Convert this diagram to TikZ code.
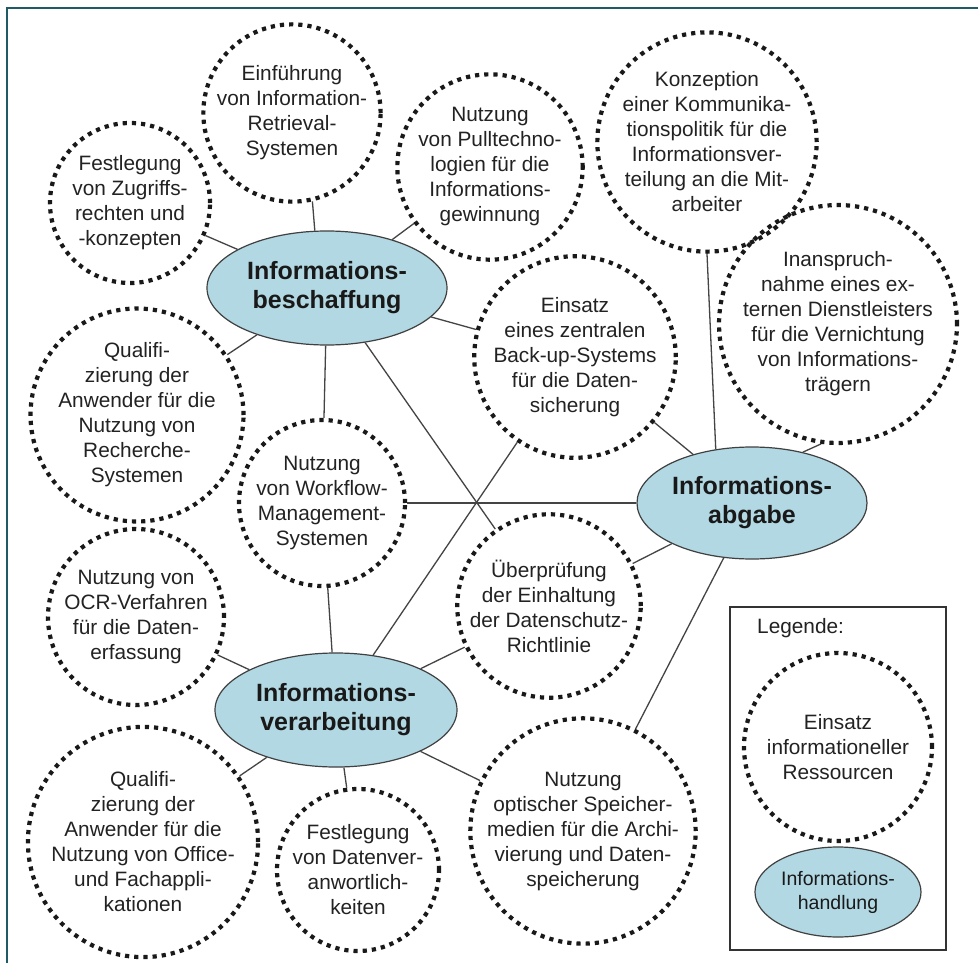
\documentclass[tikz,border=0pt]{standalone}
\usepackage{fontspec}
\setmainfont{Liberation Sans}
\usetikzlibrary{shapes.geometric}
\definecolor{frameteal}{HTML}{1F5A66}
\definecolor{handfill}{HTML}{B2D8E3}
\definecolor{inkgrey}{HTML}{222222}
\definecolor{linegrey}{HTML}{444444}
\tikzset{
  ress/.style={circle, draw=black!90, line width=4.2pt, dash pattern=on 4.2pt off 5pt,
    inner sep=0pt, align=center, text=inkgrey, font=\fontsize{20.8}{25}\selectfont},
  hand/.style={ellipse, draw=black!75, line width=1.2pt, fill=handfill, inner sep=0pt,
    align=center, text=black!90, font=\fontsize{25}{29}\selectfont\bfseries},
  link/.style={draw=linegrey, line width=1.3pt},
}
\begin{document}
\begin{tikzpicture}[x=1pt, y=-1pt]
\useasboundingbox (0,0) rectangle (978,963);
\fill[white] (0,0) rectangle (978,963);
\draw[frameteal, line width=2.4pt] (7,963) -- (7,8) -- (978,8);

% Informationshandlungen
\node[hand, minimum width=240pt, minimum height=114pt] (beschaffung) at (327,288) {Informations-\\beschaffung};
\node[hand, minimum width=230pt, minimum height=112pt] (abgabe) at (752,503) {Informations-\\abgabe};
\node[hand, minimum width=242pt, minimum height=114pt] (verarbeitung) at (336,710) {Informations-\\verarbeitung};

% Ressourcen
\node[ress, minimum size=172pt] (einf) at (292,113) {Einführung\\von Information-\\Retrieval-\\Systemen};
\node[ress, minimum size=160pt] (zugriff) at (130,203) {Festlegung\\von Zugriffs-\\rechten und\\-konzepten};
\node[ress, minimum size=182pt] (pull) at (490,167) {Nutzung\\von Pulltechno-\\logien für die\\Informations-\\gewinnung};
\node[ress, minimum size=212pt] (konz) at (707,142) {Konzeption\\einer Kommunika-\\tionspolitik für die\\Informationsver-\\teilung an die Mit-\\arbeiter};
\node[ress, minimum size=214pt] (inan) at (838,324) {Inanspruch-\\nahme eines ex-\\ternen Dienstleisters\\für die Vernichtung\\von Informations-\\trägern};
\node[ress, minimum size=180pt] (backup) at (575,357) {Einsatz\\eines zentralen\\Back-up-Systems\\für die Daten-\\sicherung};
\node[ress, minimum size=206pt] (recherche) at (137,415) {Qualifi-\\zierung der\\Anwender für die\\Nutzung von\\Recherche-\\Systemen};
\node[ress, minimum size=166pt] (workflow) at (322,503) {Nutzung\\von Workflow-\\Management-\\Systemen};
\node[ress, minimum size=174pt] (pruef) at (549,606) {Überprüfung\\der Einhaltung\\der Datenschutz-\\Richtlinie};
\node[ress, minimum size=176pt] (ocr) at (136,617) {Nutzung von\\OCR-Verfahren\\für die Daten-\\erfassung};
\node[ress, minimum size=214pt] (office) at (143,842) {Qualifi-\\zierung der\\Anwender für die\\Nutzung von Office-\\und Fachappli-\\kationen};
\node[ress, minimum size=162pt] (datver) at (358,870) {Festlegung\\von Datenver-\\anwortlich-\\keiten};
\node[ress, minimum size=212pt] (optisch) at (583,831) {Nutzung\\optischer Speicher-\\medien für die Archi-\\vierung und Daten-\\speicherung};

% Verbindungen
\path[link] (beschaffung.102) -- (einf.283);
\path[link] (beschaffung) -- (pull);
\path[link] (beschaffung) -- (zugriff);
\path[link] (beschaffung) -- (recherche);
\path[link] (beschaffung) -- (workflow);
\path[link] (beschaffung) -- (backup);
\path[link] (beschaffung) -- (pruef);
\path[link] (abgabe.124) -- (konz.south);
\path[link] (abgabe.45) -- (inan.262);
\path[link] (abgabe) -- (backup);
\path[link] (abgabe) -- (workflow);
\path[link] (abgabe) -- (pruef);
\path[link] (abgabe) -- (optisch);
\path[link] (verarbeitung) -- (workflow);
\path[link] (verarbeitung) -- (backup);
\path[link] (verarbeitung) -- (pruef);
\path[link] (verarbeitung) -- (ocr);
\path[link] (verarbeitung) -- (office);
\path[link] (verarbeitung) -- (datver);
\path[link] (verarbeitung) -- (optisch);

% Legende
\node[draw=black!80, line width=1.3pt, minimum width=216pt, minimum height=343pt, inner sep=0pt] (legbox) at (838,778.5) {};
\node[anchor=north west, inner sep=0pt, text=inkgrey, font=\fontsize{20.8}{25}\selectfont] (legtitle) at (757,618) {Legende:};
\node[ress, minimum size=188pt] (legress) at (838,747) {Einsatz\\informationeller\\Ressourcen};
\node[hand, minimum width=166pt, minimum height=90pt, font=\fontsize{19.5}{24}\selectfont] (leghand) at (838,892) {Informations-\\handlung};
\end{tikzpicture}
\end{document}
